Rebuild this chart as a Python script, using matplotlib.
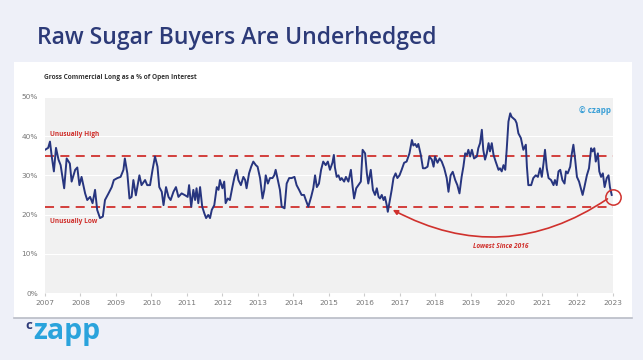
import matplotlib.pyplot as plt
import matplotlib.patches as mpatches
from matplotlib.lines import Line2D

# Gross commercial long as % of open interest
years = [
    2007.00, 2007.09, 2007.14, 2007.19, 2007.25, 2007.31, 2007.38, 2007.44, 2007.54, 2007.61,
    2007.70, 2007.75, 2007.85, 2007.91, 2007.97, 2008.03, 2008.13, 2008.19, 2008.27, 2008.34,
    2008.41, 2008.47, 2008.55, 2008.63, 2008.69, 2008.79, 2008.88, 2008.94, 2009.04, 2009.13,
    2009.21, 2009.25, 2009.32, 2009.38, 2009.44, 2009.49, 2009.56, 2009.66, 2009.72, 2009.82,
    2009.88, 2009.96, 2010.03, 2010.10, 2010.17, 2010.22, 2010.29, 2010.34, 2010.41, 2010.48,
    2010.54, 2010.62, 2010.69, 2010.76, 2010.85, 2010.95,
    2011.02, 2011.06, 2011.12, 2011.18, 2011.23, 2011.27, 2011.32, 2011.37, 2011.43, 2011.49,
    2011.54, 2011.60, 2011.65, 2011.70, 2011.77, 2011.84, 2011.89, 2011.93, 2012.00, 2012.05,
    2012.09, 2012.15, 2012.21, 2012.28, 2012.34, 2012.40, 2012.45, 2012.52, 2012.59, 2012.64,
    2012.68, 2012.75, 2012.81, 2012.87, 2012.94, 2012.99, 2013.06, 2013.13, 2013.18, 2013.22,
    2013.28, 2013.34, 2013.41, 2013.46, 2013.50, 2013.56, 2013.62, 2013.67, 2013.75, 2013.81,
    2013.88, 2013.95, 2014.03, 2014.09, 2014.16, 2014.23, 2014.30, 2014.35, 2014.42, 2014.50,
    2014.56, 2014.61, 2014.66, 2014.72, 2014.78, 2014.84, 2014.91, 2014.97, 2015.03, 2015.10,
    2015.14, 2015.17, 2015.22, 2015.27, 2015.32, 2015.36, 2015.43, 2015.48, 2015.55, 2015.62,
    2015.67, 2015.71, 2015.77, 2015.83, 2015.90, 2015.95, 2016.02, 2016.07, 2016.11, 2016.18,
    2016.24, 2016.30, 2016.35, 2016.40, 2016.44, 2016.49, 2016.54, 2016.58, 2016.63, 2016.66,
    2016.72, 2016.77, 2016.82, 2016.88, 2016.93, 2016.99, 2017.05, 2017.12, 2017.19, 2017.27,
    2017.34, 2017.38, 2017.43, 2017.48, 2017.52, 2017.59, 2017.65, 2017.71, 2017.78, 2017.83,
    2017.90, 2017.95, 2017.99, 2018.06, 2018.12, 2018.18, 2018.25, 2018.32, 2018.37, 2018.43,
    2018.49, 2018.56, 2018.62, 2018.68, 2018.74, 2018.79, 2018.84, 2018.89, 2018.93, 2018.98,
    2019.03, 2019.09, 2019.17, 2019.21, 2019.26, 2019.31, 2019.35, 2019.40, 2019.45, 2019.50,
    2019.54, 2019.59, 2019.64, 2019.70, 2019.78, 2019.82, 2019.87, 2019.92, 2019.97, 2020.01,
    2020.06, 2020.11, 2020.15, 2020.20, 2020.25, 2020.29, 2020.34, 2020.41, 2020.48, 2020.55,
    2020.58, 2020.62, 2020.70, 2020.76, 2020.83, 2020.89, 2020.95, 2021.00, 2021.05, 2021.09,
    2021.14, 2021.19, 2021.26, 2021.33, 2021.37, 2021.42, 2021.47, 2021.52, 2021.58, 2021.64,
    2021.68, 2021.73, 2021.80, 2021.84, 2021.89, 2021.94, 2021.99, 2022.05, 2022.11, 2022.15,
    2022.20, 2022.27, 2022.33, 2022.39, 2022.43, 2022.48, 2022.52, 2022.58, 2022.62, 2022.67,
    2022.72, 2022.77, 2022.83, 2022.88, 2022.92, 2022.97,
]
pct_long = [
    36.5, 37.0, 38.6, 34.8, 31.0, 37.0, 34.0, 32.6, 26.7, 34.3,
    33.0, 28.4, 31.4, 32.0, 27.5, 29.6, 25.4, 23.7, 24.5, 22.9,
    26.3, 21.2, 19.1, 19.5, 23.7, 25.4, 27.0, 28.8, 29.3, 29.6,
    31.4, 34.3, 30.5, 24.1, 24.5, 28.8, 24.9, 30.0, 27.5, 28.8,
    27.5, 27.5, 31.4, 34.8, 32.2, 27.0, 25.8, 22.4, 27.0, 24.5,
    23.7, 25.8, 27.0, 24.5, 25.4, 24.9,
    24.5, 27.5, 22.0, 26.3, 23.7, 26.7, 22.9, 27.0, 22.0, 20.3,
    19.1, 19.9, 19.1, 21.2, 22.4, 27.0, 26.3, 28.8, 26.7, 28.4,
    22.9, 24.1, 23.7, 27.0, 29.6, 31.4, 28.8, 27.5, 29.6, 28.8,
    26.7, 30.5, 32.2, 33.5, 32.6, 32.2, 29.3, 24.1, 26.3, 30.0,
    27.9, 29.3, 29.3, 30.0, 31.4, 28.8, 26.3, 22.0, 21.6, 27.9,
    29.3, 29.3, 29.6, 27.5, 26.3, 25.0, 25.0, 23.7, 22.0, 24.5,
    26.7, 30.0, 27.0, 27.9, 31.4, 33.5, 32.6, 33.5, 31.4, 33.2,
    35.2, 32.0, 29.6, 30.0, 28.8, 29.3, 28.4, 29.6, 28.4, 31.4,
    27.0, 24.1, 26.7, 27.5, 28.4, 36.5, 35.6, 30.5, 27.9, 31.4,
    26.3, 25.0, 26.7, 24.5, 24.1, 25.0, 23.7, 24.5, 22.4, 20.7,
    23.7, 26.3, 29.3, 30.5, 29.3, 30.0, 31.4, 33.2, 33.5, 35.6,
    39.0, 37.6, 38.0, 37.2, 38.0, 35.2, 31.8, 31.8, 32.2, 34.8,
    34.0, 32.2, 34.8, 33.2, 34.3, 33.5, 31.8, 29.3, 25.8, 30.0,
    30.9, 28.8, 27.5, 25.4, 29.6, 32.2, 35.6, 35.2, 36.5, 34.8,
    36.5, 34.3, 34.8, 36.9, 38.2, 41.6, 36.5, 34.0, 35.6, 38.2,
    36.1, 38.2, 35.2, 33.5, 31.4, 31.8, 31.0, 32.6, 31.4, 36.5,
    43.7, 45.8, 44.9, 44.5, 44.1, 43.3, 40.7, 39.5, 36.5, 37.8,
    32.2, 27.5, 27.5, 29.3, 30.0, 29.6, 31.8, 29.6, 33.2, 36.5,
    31.8, 29.3, 28.8, 27.5, 28.8, 27.5, 31.0, 31.4, 28.8, 27.9,
    31.0, 30.5, 32.2, 35.2, 37.8, 34.0, 29.6, 28.4, 26.3, 25.0,
    27.0, 30.0, 31.8, 36.9, 36.1, 36.9, 33.5, 35.6, 31.0, 29.6,
    30.5, 27.0, 29.3, 30.0, 27.0, 25.0,
]

year_ticks = list(range(2007, 2024))
pct_ticks = [0, 10, 20, 30, 40, 50]
high_level = 35
low_level = 22

navy = '#27357f'
red = '#d0312d'
blue = '#2aa3dc'
bg = '#eef0f8'

fig = plt.figure(figsize=(6.43, 3.6), dpi=100, facecolor=bg)

# white card behind the chart
card = mpatches.Rectangle((0.022, 0.117), 0.961, 0.711, transform=fig.transFigure,
                          facecolor='white', edgecolor='none', zorder=-5)
fig.patches.append(card)
fig.lines.append(Line2D([0.022, 0.983], [0.116, 0.116], transform=fig.transFigure,
                        color='#b9bcc6', linewidth=1.2, zorder=-4))

fig.text(0.057, 0.895, 'Raw Sugar Buyers Are Underhedged', fontsize=16.6, color='#2c3a78',
         family='Open Sans', fontweight='semibold', ha='left', va='center')
fig.text(0.068, 0.786, 'Gross Commercial Long as a % of Open Interest', fontsize=4.7,
         color='#333333', fontweight='bold', family='Open Sans', ha='left', va='center')

ax = fig.add_axes([0.070, 0.186, 0.883, 0.545])
ax.set_facecolor('#f1f1f1')
for s in ax.spines.values():
    s.set_visible(False)

ax.plot(years, pct_long, color=navy, linewidth=1.4, zorder=3)
ax.axhline(high_level, color=red, linestyle=(0, (5, 3.5)), linewidth=1.3, zorder=2)
ax.axhline(low_level, color=red, linestyle=(0, (5, 3.5)), linewidth=1.3, zorder=2)

ax.set_xlim(2007, 2023)
ax.set_ylim(0, 50)
ax.set_xticks(year_ticks)
ax.set_xticklabels([str(y) for y in year_ticks])
ax.set_yticks(pct_ticks)
ax.set_yticklabels([f'{p}%' for p in pct_ticks])
ax.tick_params(axis='both', labelsize=5.3, labelcolor='#777777', length=2, color='#cccccc', pad=3)
ax.tick_params(axis='y', length=0, pad=5)
ax.grid(axis='y', color='white', linewidth=0.8)
ax.set_axisbelow(True)

ax.text(2007.15, 40.5, 'Unusually High', color=red, fontsize=4.7, fontweight='bold',
        family='Open Sans', ha='left', va='center')
ax.text(2007.15, 18.2, 'Unusually Low', color=red, fontsize=4.7, fontweight='bold',
        family='Open Sans', ha='left', va='center')
ax.text(2022.95, 46.5, '© czapp', color='#3a9fd6', fontsize=5.8, fontweight='bold',
        family='Open Sans', ha='right', va='center')

# circle at the latest reading
ax.plot([years[-1] + 0.05], [pct_long[-1] - 0.4], marker='o', markersize=11, markerfacecolor='none',
        markeredgecolor=red, markeredgewidth=1.1, clip_on=False, zorder=4)

ax.annotate('', xy=(2016.8, 21.2), xytext=(2022.85, 24.0),
            arrowprops=dict(arrowstyle='-|>', color=red, linewidth=1.2, mutation_scale=7,
                            connectionstyle='arc3,rad=-0.3', shrinkA=0, shrinkB=0))
ax.text(2019.85, 11.8, 'Lowest Since 2016', color=red, fontsize=4.7, fontweight='bold',
        style='italic', family='Open Sans', ha='center', va='center')

# logo
fig.text(0.040, 0.096, 'c', fontsize=9.5, color='#2c3a78', fontweight='bold',
         family='Open Sans', ha='left', va='center')
fig.text(0.051, 0.080, 'zapp', fontsize=20.5, color=blue, fontweight='bold',
         family='Open Sans', ha='left', va='center')

fig.savefig('out.png', dpi=100, facecolor=bg)
